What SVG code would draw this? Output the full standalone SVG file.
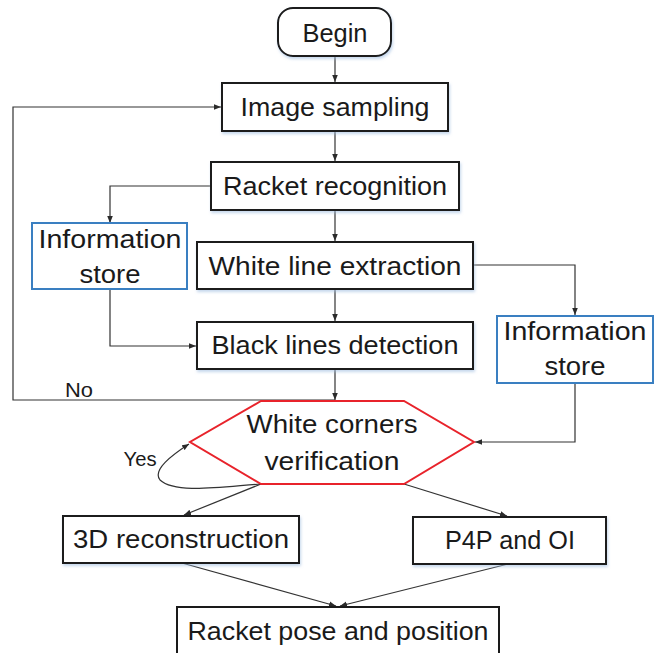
<svg xmlns="http://www.w3.org/2000/svg" width="659" height="653" viewBox="0 0 659 653">
<style>
.box{fill:#fff;stroke:#1a1a1a;stroke-width:2}
.info{fill:#fff;stroke:#3a7fc1;stroke-width:2}
.hex{fill:#fff;stroke:#e8232b;stroke-width:2}
.t{font-family:"Liberation Sans",Arial,sans-serif;font-size:25px;fill:#1a1a1a;text-anchor:middle}
.s{font-family:"Liberation Sans",Arial,sans-serif;font-size:20px;fill:#1a1a1a;text-anchor:middle}
.c{fill:none;stroke:#333;stroke-width:1.2}
</style>
<defs>
<marker id="ah" viewBox="0 0 10 10" refX="10" refY="5" markerWidth="7" markerHeight="7" orient="auto" markerUnits="userSpaceOnUse">
<path d="M0,1 L10,5 L0,9 Z" fill="#2a2a2a"/>
</marker>
<filter id="sh" x="-10%" y="-20%" width="120%" height="150%">
<feGaussianBlur in="SourceAlpha" stdDeviation="1.5"/>
<feOffset dx="1" dy="2" result="b"/>
<feFlood flood-color="#9fbde0" flood-opacity="0.6"/>
<feComposite in2="b" operator="in"/>
<feMerge><feMergeNode/><feMergeNode in="SourceGraphic"/></feMerge>
</filter>
</defs>
<g id="connectors">
<line class="c" x1="335" y1="56" x2="335" y2="82" marker-end="url(#ah)"/>
<line class="c" x1="335" y1="131" x2="335" y2="161" marker-end="url(#ah)"/>
<polyline class="c" points="211,186 110,186 110,223" marker-end="url(#ah)"/>
<line class="c" x1="335" y1="210" x2="335" y2="241" marker-end="url(#ah)"/>
<polyline class="c" points="473,265 575,265 575,315" marker-end="url(#ah)"/>
<line class="c" x1="335" y1="289" x2="335" y2="321" marker-end="url(#ah)"/>
<polyline class="c" points="110,289 110,346 196,346" marker-end="url(#ah)"/>
<line class="c" x1="335" y1="369" x2="335" y2="400" marker-end="url(#ah)"/>
<polyline class="c" points="335,400 13,400 13,107 221,107" marker-end="url(#ah)"/>
<polyline class="c" points="575,383 575,442 475,442" marker-end="url(#ah)"/>
<path class="c" d="M261,484 C220,487 175,494 160,480 C152,470 172,455 189,444" marker-end="url(#ah)"/>
<line class="c" x1="261" y1="484" x2="184" y2="515" marker-end="url(#ah)"/>
<line class="c" x1="404" y1="484" x2="507" y2="516" marker-end="url(#ah)"/>
<line class="c" x1="182" y1="563" x2="336" y2="606" marker-end="url(#ah)"/>
<line class="c" x1="508" y1="564" x2="340" y2="606" marker-end="url(#ah)"/>
<text class="s" x="79" y="397" textLength="28" lengthAdjust="spacingAndGlyphs">No</text>
<text class="s" x="140" y="466" textLength="33" lengthAdjust="spacingAndGlyphs">Yes</text>
</g>
<g id="begin"><rect class="box" x="278" y="8" width="113" height="48" rx="15" filter="url(#sh)"/><text class="t" x="335" y="42" textLength="65" lengthAdjust="spacingAndGlyphs">Begin</text></g>
<g id="image-sampling"><rect class="box" x="222" y="83" width="226" height="48" filter="url(#sh)"/><text class="t" x="335" y="116" textLength="189" lengthAdjust="spacingAndGlyphs">Image sampling</text></g>
<g id="racket-recognition"><rect class="box" x="211" y="162" width="248" height="48" filter="url(#sh)"/><text class="t" x="335" y="195" textLength="224" lengthAdjust="spacingAndGlyphs">Racket recognition</text></g>
<g id="info-store-left"><rect class="info" x="32" y="223" width="155" height="66"/><text class="t" x="110" y="248" textLength="143" lengthAdjust="spacingAndGlyphs">Information</text><text class="t" x="110" y="283" textLength="61" lengthAdjust="spacingAndGlyphs">store</text></g>
<g id="white-line-extraction"><rect class="box" x="197" y="242" width="276" height="47" filter="url(#sh)"/><text class="t" x="335" y="275" textLength="253" lengthAdjust="spacingAndGlyphs">White line extraction</text></g>
<g id="black-lines-detection"><rect class="box" x="197" y="322" width="276" height="47" filter="url(#sh)"/><text class="t" x="335" y="354" textLength="247" lengthAdjust="spacingAndGlyphs">Black lines detection</text></g>
<g id="info-store-right"><rect class="info" x="497" y="316" width="156" height="67"/><text class="t" x="575" y="340" textLength="143" lengthAdjust="spacingAndGlyphs">Information</text><text class="t" x="575" y="375" textLength="61" lengthAdjust="spacingAndGlyphs">store</text></g>
<g id="white-corners-verification"><polygon class="hex" points="261,401 404,401 474,442 404,484 261,484 190,442"/><text class="t" x="332" y="433" textLength="171" lengthAdjust="spacingAndGlyphs">White corners</text><text class="t" x="332" y="470" textLength="135" lengthAdjust="spacingAndGlyphs">verification</text></g>
<g id="reconstruction-3d"><rect class="box" x="63" y="516" width="236" height="47" filter="url(#sh)"/><text class="t" x="181" y="548" textLength="216" lengthAdjust="spacingAndGlyphs">3D reconstruction</text></g>
<g id="p4p-oi"><rect class="box" x="413" y="517" width="193" height="47" filter="url(#sh)"/><text class="t" x="510" y="549" textLength="130" lengthAdjust="spacingAndGlyphs">P4P and OI</text></g>
<g id="racket-pose"><rect class="box" x="177" y="607" width="322" height="60"/><text class="t" x="338" y="640" textLength="301" lengthAdjust="spacingAndGlyphs">Racket pose and position</text></g>
</svg>
